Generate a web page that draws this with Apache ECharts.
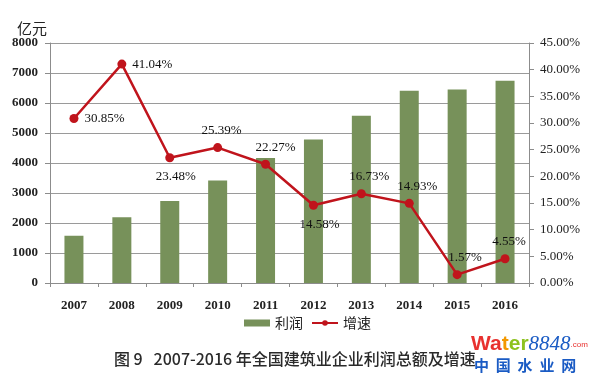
<!DOCTYPE html>
<html>
<head>
<meta charset="utf-8">
<script src="https://cdn.jsdelivr.net/npm/echarts@6/dist/echarts.min.js"></script>
<style>html,body{margin:0;padding:0;background:#fff}#c{width:600px;height:383px}</style>
</head>
<body>
<div id="c"></div>
<script>
const years = ['2007','2008','2009','2010','2011','2012','2013','2014','2015','2016'];
const profit = [1575, 2190, 2733, 3414, 4168, 4780, 5575, 6407, 6451, 6745];
const growth = [30.85, 41.04, 23.48, 25.39, 22.27, 14.58, 16.73, 14.93, 1.57, 4.55];
const leftTicks = [0, 8000, 1000];
const rightTicks = [0, 45, 5];
const labelPos = ['right','right','bottom','top','top','bottom','top','top','top','top'];
const labelOff = [[0,0],[0,0],[6,2],[4,0],[10,0],[6,2],[8,0],[8,0],[8,0],[4,0]];

const serif = '"Liberation Serif","DejaVu Serif",serif';
const chart = echarts.init(document.getElementById('c'));
chart.setOption({
  animation: false,
  grid: { left: 50, right: 71, top: 43, bottom: 100 },
  legend: {
    bottom: 48, left: 239, itemGap: 8, itemWidth: 26, itemHeight: 7,
    textStyle: { fontFamily: '"Noto Sans CJK SC"', fontSize: 14, color: '#222' },
    data: [
      { name: '利润', icon: 'rect' },
      { name: '增速' }
    ]
  },
  xAxis: {
    type: 'category', data: years,
    axisLine: { lineStyle: { color: '#8c8c8c' } },
    axisTick: { show: true, length: 4, lineStyle: { color: '#8c8c8c' } },
    axisLabel: { fontFamily: serif, fontWeight: 'bold', fontSize: 13, color: '#222', margin: 16 }
  },
  yAxis: [
    {
      type: 'value', min: leftTicks[0], max: leftTicks[1], interval: leftTicks[2],
      name: '亿元', nameLocation: 'end', nameGap: 7,
      nameTextStyle: { fontFamily: '"Noto Sans CJK SC"', fontSize: 15, color: '#222', align: 'right', padding: [0, 3, 0, 0] },
      axisLine: { show: true, lineStyle: { color: '#8c8c8c' } },
      axisTick: { show: true, length: 5, lineStyle: { color: '#8c8c8c' } },
      splitLine: { lineStyle: { color: '#9a9a9a' } },
      axisLabel: { fontFamily: serif, fontWeight: 'bold', fontSize: 13, color: '#222', margin: 12,
        formatter: v => String(v) }
    },
    {
      type: 'value', min: rightTicks[0], max: rightTicks[1], interval: rightTicks[2],
      position: 'right',
      axisLine: { show: true, lineStyle: { color: '#8c8c8c' } },
      axisTick: { show: true, length: 5, lineStyle: { color: '#8c8c8c' } },
      splitLine: { show: false },
      axisLabel: { fontFamily: serif, fontSize: 13, color: '#222', margin: 11,
        formatter: v => v.toFixed(2) + '%' }
    }
  ],
  series: [
    {
      name: '利润', type: 'bar', data: profit, barWidth: 19,
      itemStyle: { color: '#77915a' }
    },
    {
      name: '增速', type: 'line', yAxisIndex: 1,
      data: growth.map((v, i) => ({
        value: v,
        label: { position: labelPos[i], offset: labelOff[i] }
      })),
      symbol: 'circle', symbolSize: 9,
      lineStyle: { color: '#c0141c', width: 2.5 },
      itemStyle: { color: '#c0141c' },
      label: {
        show: true, fontFamily: serif, fontSize: 13, color: '#111', distance: 6,
        formatter: p => p.value.toFixed(2) + '%'
      }
    }
  ],
  graphic: [
    { type: 'text', left: 114, top: 351,
      style: { text: '图 9   2007-2016 年全国建筑业企业利润总额及增速', fontFamily: '"Noto Sans CJK SC"', fontSize: 16, fontWeight: 500, fill: '#2a2a2a' } },
    { type: 'text', left: 471, top: 334,
      style: { rich: {
        r: { fill: '#e8312f', fontFamily: 'Arial,"Liberation Sans"', fontWeight: 'bold', fontSize: 21 },
        o: { fill: '#f39800', fontFamily: 'Arial,"Liberation Sans"', fontWeight: 'bold', fontSize: 21 },
        g: { fill: '#8dc21f', fontFamily: 'Arial,"Liberation Sans"', fontWeight: 'bold', fontSize: 21 },
        b: { fill: '#1a5bc4', fontFamily: serif, fontStyle: 'italic', fontSize: 21 },
        c: { fill: '#e8312f', fontFamily: 'Arial,"Liberation Sans"', fontSize: 8 }
      }, text: '{r|Wa}{o|t}{g|er}{b|8848}{c|.com}' } },
    { type: 'text', left: 474, top: 358,
      style: { text: '中  国  水  业  网', fontFamily: '"Noto Sans CJK SC"', fontSize: 15, fontWeight: 'bold', fill: '#1a5bc4' } }
  ]
});
</script>
</body>
</html>
